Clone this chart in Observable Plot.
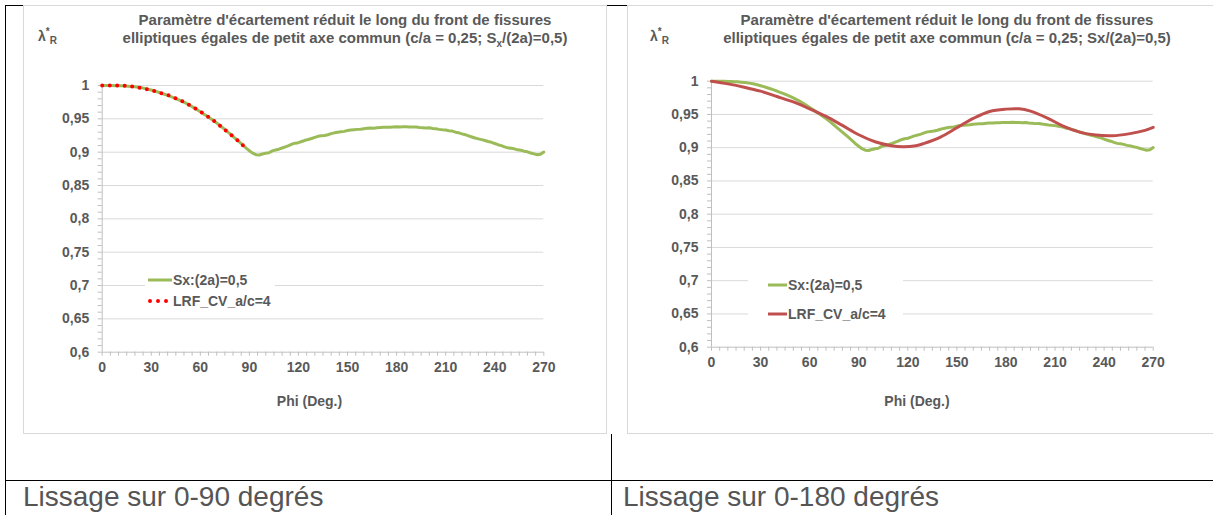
<!DOCTYPE html>
<html><head><meta charset="utf-8">
<script src="https://cdn.jsdelivr.net/npm/d3@7"></script>
<script src="https://cdn.jsdelivr.net/npm/@observablehq/plot@0.6"></script>
<style>
html,body{margin:0;padding:0;background:#fff;width:1213px;height:515px;overflow:hidden;position:relative;font-family:"Liberation Sans",Arial,sans-serif;}
.hl{position:absolute;background:#000;height:1px;}
.vl{position:absolute;background:#000;width:1px;}
.frame{position:absolute;border:1px solid #d9d9d9;box-sizing:border-box;background:#fff;}
.svgbox{position:absolute;}
.svgbox svg{max-width:none !important;}
.title{position:absolute;width:640px;text-align:center;font-weight:bold;font-size:15px;line-height:18px;color:#595959;white-space:nowrap;}
.lam{position:absolute;font-weight:bold;font-size:14px;color:#595959;}
.lam sub{font-size:10px;}
.lam sup{font-size:10px;}
.xlab{position:absolute;font-weight:bold;font-size:14px;line-height:16px;color:#595959;transform:translateX(-50%);white-space:nowrap;}
.leg{position:absolute;background:#fff;}
.legrow{position:absolute;font-weight:bold;font-size:14px;color:#595959;white-space:nowrap;line-height:14px;}
.legrow svg{position:absolute;}
.cap{position:absolute;font-family:"Liberation Sans",Arial,sans-serif;font-size:28px;line-height:28px;color:#555;white-space:nowrap;}
</style></head>
<body>
<script>
// ---------- data ----------
const phiGreen = [0,2,4,6,8,10,12,14,16,18,20,22,24,26,28,30,32,34,36,38,40,42,44,46,48,50,52,54,56,58,60,62,64,66,68,70,72,74,76,78,80,82,84,86,88,90,92,94,96,98,100,102,104,106,108,110,112,114,116,118,120,122,124,126,128,130,132,134,136,138,140,142,144,146,148,150,152,154,156,158,160,162,164,166,168,170,172,174,176,178,180,182,184,186,188,190,192,194,196,198,200,202,204,206,208,210,212,214,216,218,220,222,224,226,228,230,232,234,236,238,240,242,244,246,248,250,252,254,256,258,260,262,264,266,268,270];
const lamGreen = [1.0,1.0,1.0,0.9999,0.9998,0.9997,0.9995,0.9993,0.999,0.9986,0.9981,0.9975,0.9967,0.9957,0.9946,0.9932,0.9918,0.9902,0.9886,0.9869,0.9852,0.9833,0.9814,0.9793,0.9772,0.975,0.9724,0.9697,0.9668,0.9638,0.9606,0.9574,0.9541,0.9508,0.9474,0.9437,0.94,0.936,0.9318,0.9277,0.9235,0.9192,0.915,0.9105,0.906,0.9022,0.8985,0.8962,0.8958,0.8972,0.8985,0.8992,0.902,0.9032,0.9045,0.9062,0.908,0.9098,0.912,0.9135,0.9142,0.916,0.9178,0.919,0.9205,0.9222,0.9238,0.9245,0.925,0.9262,0.9278,0.929,0.93,0.9306,0.9312,0.9325,0.9332,0.9338,0.9342,0.9345,0.9352,0.9358,0.9362,0.936,0.9366,0.937,0.9372,0.9375,0.9374,0.9378,0.938,0.9379,0.9382,0.938,0.9378,0.9376,0.9378,0.937,0.9366,0.9362,0.9365,0.9355,0.935,0.9342,0.9336,0.9332,0.9322,0.9316,0.93,0.929,0.9275,0.9262,0.9245,0.9228,0.9212,0.92,0.9188,0.9175,0.916,0.9148,0.913,0.9112,0.9098,0.908,0.9065,0.9058,0.905,0.9035,0.9028,0.9015,0.9005,0.8988,0.8975,0.8962,0.8968,0.9002];

// LRF_CV_a/c=4 — smoothing over 0-90 degrees
const phiRed90 = [0,5,10,15,20,25,30,35,40,45,50,55,60,65,70,75,80,85,88];
const lamRed90 = [1,1,0.9998,0.9994,0.998,0.9955,0.9928,0.9893,0.9857,0.9807,0.975,0.9683,0.9608,0.9528,0.9437,0.9335,0.9235,0.9128,0.906];

// LRF_CV_a/c=4 — smoothing over 0-180 degrees
const phiRed180 = [0,10,20,30,40,50,60,70,80,90,100,110,117,125,130,140,150,160,170,180,188,195,205,215,225,235,245,255,265,270];
const lamRed180 = [1,0.996,0.991,0.985,0.977,0.9688,0.9585,0.947,0.9335,0.9195,0.909,0.903,0.9015,0.903,0.9065,0.916,0.93,0.944,0.9545,0.958,0.9585,0.955,0.945,0.9325,0.9235,0.919,0.918,0.9208,0.926,0.9305];

const xTicks = [0,30,60,90,120,150,180,210,240,270];
const yTicks = [0.6,0.65,0.7,0.75,0.8,0.85,0.9,0.95,1];
const seriesNames = ["Sx:(2a)=0,5","LRF_CV_a/c=4"];
const captions = ["Lissage sur 0-90 degrés","Lissage sur 0-180 degrés"];

// ---------- helpers ----------
const toRows = (xs, ys) => xs.map((x,i)=>({phi:x, lam:ys[i]}));
const green = toRows(phiGreen, lamGreen);
const red90 = toRows(phiRed90, lamRed90);
const red180 = toRows(phiRed180, lamRed180);
const minorX = d3.range(0, 271, 5);
const minorY = d3.range(60, 101, 1).map(v=>v/100);
const fmtY = d => String(+d.toFixed(2)).replace(".", ",");

function makeChart(opts, redData, redStyle){
  return Plot.plot({
    width: opts.width, height: opts.height,
    marginLeft: opts.mL, marginRight: opts.mR, marginTop: opts.mT, marginBottom: opts.mB,
    x: {domain:[0,270]},
    y: {domain:[0.6,1]},
    style: {fontFamily:'"Liberation Sans",Arial,sans-serif', fontSize:"14px", fontWeight:"bold", color:"#595959", background:"transparent", overflow:"visible", maxWidth:"none"},
    marks: [
      Plot.ruleY(yTicks.filter(v=>v>0.6), {stroke:"#d9d9d9", strokeWidth:1}),
      Plot.axisX(minorX, {tickSize:4, text:null, stroke:"#bfbfbf", label:null}),
      Plot.axisX(xTicks, {tickSize:0, tickPadding:10, tickFormat:d=>String(d), fill:"#595959", label:null}),
      Plot.axisY(minorY, {tickSize:4, text:null, stroke:"#bfbfbf", label:null}),
      Plot.axisY(yTicks, {tickSize:0, tickPadding:13, tickFormat:fmtY, fill:"#595959", label:null}),
      Plot.ruleY([0.6], {stroke:"#bfbfbf"}),
      Plot.ruleX([0], {stroke:"#bfbfbf"}),
      Plot.line(green, {x:"phi", y:"lam", stroke:"#9bbb59", strokeWidth:3, curve:"linear"}),
      Plot.line(redData, {x:"phi", y:"lam", curve:"catmull-rom", ...redStyle})
    ]
  });
}

function add(cls, style, html, parent){
  const d = document.createElement("div");
  d.className = cls;
  Object.assign(d.style, style);
  if (html!=null) d.innerHTML = html;
  (parent||document.body).appendChild(d);
  return d;
}

// ---------- table lines ----------
add("hl", {left:"5px", top:"5px", width:"1208px"});
add("vl", {left:"5px", top:"5px", height:"510px"});
add("hl", {left:"5px", top:"480px", width:"1208px"});
add("vl", {left:"611px", top:"434px", height:"81px"});

// ---------- frames & charts ----------
const panels = [
  {fx:23, fw:584, mL:78.7, mR:63.7, mT:80, mB:82.3, tcx:345, lamx:38, xlabx:309.5,
   red:red90, redStyle:{stroke:"#ff0000", strokeWidth:4, strokeDasharray:"0 7.5", strokeLinecap:"round"},
   titleSub:true, leg:{box:[145,268,130,46], lineX:148, textX:173, rows:[280,301]}},
  {fx:627, fw:596, mL:84, mR:70.3, mT:75.7, mB:87.3, tcx:947, lamx:650, xlabx:917,
   red:red180, redStyle:{stroke:"#c0504d", strokeWidth:3},
   titleSub:false, leg:{box:[748,266,155,64], lineX:768, textX:788, rows:[285,314]}}
];

panels.forEach((p,i)=>{
  add("frame", {left:p.fx+"px", top:"5px", width:p.fw+"px", height:"429px"});
  const box = add("svgbox", {left:p.fx+"px", top:"5px", width:p.fw+"px", height:"429px"});
  const svg = makeChart({width:p.fw, height:429, mL:p.mL, mR:p.mR, mT:p.mT, mB:p.mB}, p.red, p.redStyle);
  svg.style.maxWidth = "none";
  svg.style.width = p.fw + "px";
  svg.style.height = "429px";
  box.appendChild(svg);
  const sx = p.titleSub ? "S<sub style='font-size:10px'>x</sub>" : "Sx";
  add("title", {left:(p.tcx-320)+"px", top:"11px"},
      "Paramètre d'écartement réduit le long du front de fissures<br>elliptiques égales de petit axe commun (c/a = 0,25; "+sx+"/(2a)=0,5)");
  add("lam", {left:p.lamx+"px", top:"26px"}, "λ<sup>*</sup><sub>R</sub>");
  add("xlab", {left:p.xlabx+"px", top:"393px"}, "Phi (Deg.)");
  const b = p.leg.box;
  add("leg", {left:b[0]+"px", top:b[1]+"px", width:b[2]+"px", height:b[3]+"px"});
  const dx = p.leg.textX - p.leg.lineX;
  p.leg.rows.forEach((ry,k)=>{
    let sw;
    if (k===0) sw = `<svg width="26" height="6" style="left:${-dx}px;top:4px"><line x1="0" y1="3" x2="${dx-1}" y2="3" stroke="#9bbb59" stroke-width="3"/></svg>`;
    else if (i===0) sw = `<svg width="26" height="6" style="left:${-dx}px;top:4px"><circle cx="2" cy="3" r="2" fill="#ff0000"/><circle cx="10" cy="3" r="2" fill="#ff0000"/><circle cx="18" cy="3" r="2" fill="#ff0000"/></svg>`;
    else sw = `<svg width="26" height="6" style="left:${-dx}px;top:4px"><line x1="0" y1="3" x2="${dx-1}" y2="3" stroke="#c0504d" stroke-width="3"/></svg>`;
    add("legrow", {left:p.leg.textX+"px", top:(ry-7)+"px"}, sw + seriesNames[k]);
  });
  add("cap", {left:(i===0?23:623)+"px", top:"483px"}, captions[i]);
});
</script>
</body></html>
